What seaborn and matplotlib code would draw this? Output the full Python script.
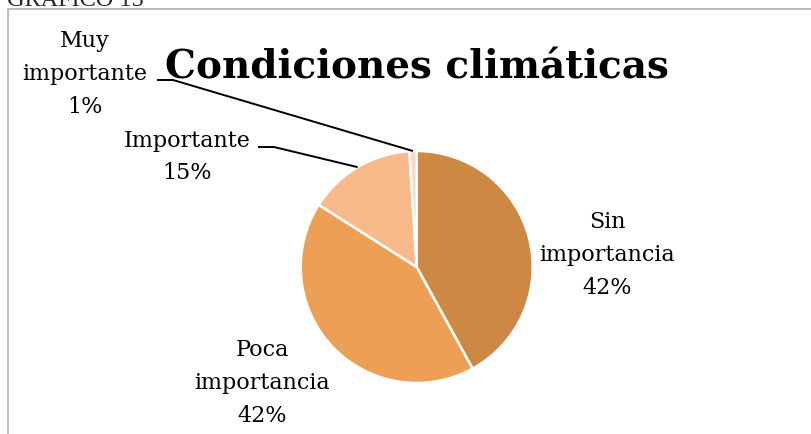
import numpy as np
import matplotlib
matplotlib.use("Agg")
import matplotlib.pyplot as plt
import seaborn as sns

# datos del grafico
categorias = ["Sin importancia", "Poca importancia", "Importante", "Muy importante"]
etiquetas = ["Sin\nimportancia", "Poca\nimportancia", "Importante", "Muy\nimportante"]
porcentajes = [42, 42, 15, 1]
colores = ["#CD8843", "#EDA055", "#F9B98A", "#FAD9C8"]

sns.set_theme(style="white")
plt.rcParams["font.family"] = ["DejaVu Serif"]

fig = plt.figure(figsize=(8.12, 4.35), dpi=100)
ax = fig.add_axes([0, 0, 1, 1])

wedges, _ = ax.pie(porcentajes, colors=colores, startangle=90, counterclock=False,
                   radius=1, wedgeprops=dict(edgecolor="white", linewidth=1.8))

# centro y radio del pastel en pixeles
cx, cy, r = 416.7, 268, 116
ax.set_xlim(-cx / r, (812 - cx) / r)
ax.set_ylim(-(435 - cy) / r, cy / r)
ax.set_aspect("equal")
ax.axis("off")

def px(x, y):
    return ((x - cx) / r, (cy - y) / r)

# posiciones de las etiquetas (pixeles)
pos_etq = [(607, 255), (262, 383), (187, 157), (85, 74)]
con_linea = [False, False, True, True]
inicio_linea = [None, None, (258, 148), (157, 81)]

for w, etq, p, pos, linea, ini in zip(wedges, etiquetas, porcentajes, pos_etq, con_linea, inicio_linea):
    tx, ty = px(*pos)
    ax.text(tx, ty, f"{etq}\n{p}%", ha="center", va="center", fontsize=16,
            linespacing=1.62, color="black")
    if linea:
        ang = np.deg2rad((w.theta1 + w.theta2) / 2)
        ex, ey = np.cos(ang), np.sin(ang)
        x0, y0 = px(*ini)
        x1, y1 = px(ini[0] + 16, ini[1])
        ax.plot([x0, x1, ex], [y0, y1, ey], color="black", lw=1.4, solid_capstyle="butt")

fig.text(417 / 812, 1 - 68 / 435, "Condiciones climáticas", ha="center", va="center",
         fontsize=28, fontweight="heavy", color="black")

# marco y encabezado recortado
fig.add_artist(plt.Line2D([8 / 812, 8 / 812], [0, 1 - 10 / 435], color="#B0B0B0", lw=1.2))
fig.add_artist(plt.Line2D([8 / 812, 1], [1 - 10 / 435, 1 - 10 / 435], color="#B0B0B0", lw=1.2))
fig.text(7 / 812, 1 - 6 / 435, "GRAFICO 15", ha="left", va="baseline", fontsize=17.5,
         family=["Liberation Serif"])

fig.savefig("out.png", dpi=100)
